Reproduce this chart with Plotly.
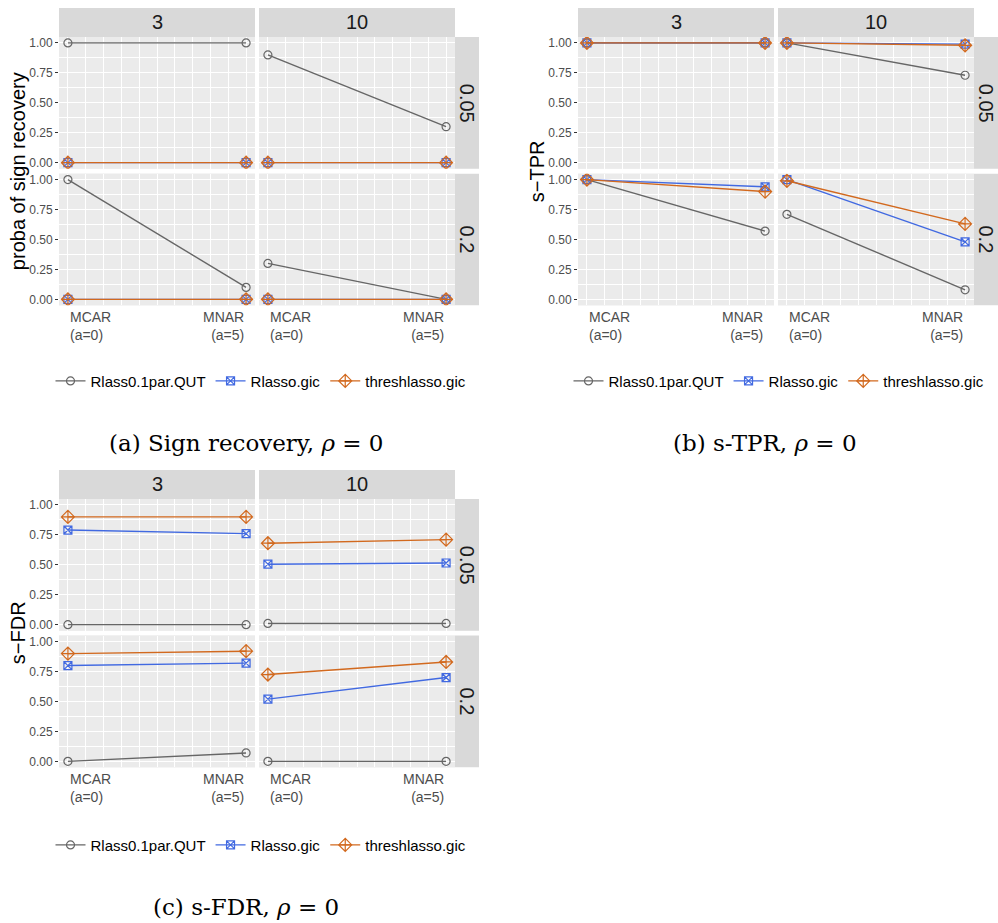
import plotly.graph_objects as go

W, H = 998, 923

# ---------------- data ----------------
a_values = [0, 5]
x_ticktext = ["MCAR<br>(a=0)", "MNAR<br>(a=5)"]
methods = ["Rlass0.1par.QUT", "Rlasso.gic", "threshlasso.gic"]
col_labels = ["3", "10"]
row_labels = ["0.05", "0.2"]
y_tickvals = [0, 0.25, 0.5, 0.75, 1.0]
y_ticktext = ["0.00", "0.25", "0.50", "0.75", "1.00"]

# panel order: (0.05,3), (0.05,10), (0.2,3), (0.2,10); each [MCAR, MNAR]
sign_qut = [[1.00, 1.00], [0.90, 0.30], [1.00, 0.10], [0.30, 0.00]]
sign_gic = [[0.00, 0.00], [0.00, 0.00], [0.00, 0.00], [0.00, 0.00]]
sign_thr = [[0.00, 0.00], [0.00, 0.00], [0.00, 0.00], [0.00, 0.00]]

tpr_qut = [[1.00, 1.00], [1.00, 0.73], [1.00, 0.57], [0.71, 0.08]]
tpr_gic = [[1.00, 1.00], [1.00, 0.99], [1.00, 0.94], [1.00, 0.48]]
tpr_thr = [[1.00, 1.00], [1.00, 0.98], [1.00, 0.90], [0.99, 0.63]]

fdr_qut = [[0.00, 0.00], [0.01, 0.01], [0.00, 0.07], [0.00, 0.00]]
fdr_gic = [[0.79, 0.76], [0.505, 0.515], [0.80, 0.82], [0.52, 0.70]]
fdr_thr = [[0.90, 0.90], [0.68, 0.71], [0.90, 0.92], [0.725, 0.83]]

# ---------------- styles ----------------
colors = ["#666666", "#4169E1", "#D2691E"]
symbols = ["circle-open", "square-x-open", "diamond-cross-open"]
msizes = [8, 8, 10]
PANEL_BG = "#EBEBEB"
STRIP_BG = "#D9D9D9"
SANS = "Liberation Sans, Arial, sans-serif"
SERIF = "DejaVu Serif, Liberation Serif, serif"

fig = go.Figure()
layout_axes = {}
annotations = []
shapes = []
axis_counter = [0]


def px_x(v):
    return v / W


def px_y(v):
    return 1 - v / H


def add_grid(series, left, top, ytitle, ytitle_x, legend_key, legend_xc, legend_y):
    col_w = 196
    gap = 5
    strip_h = 29
    row_h = 132
    strip_w = 24
    col_x0 = [left, left + col_w + gap - 1]
    row_y0 = [top + strip_h, top + strip_h + row_h + gap]
    # top strips
    for c in range(2):
        shapes.append(dict(type="rect", xref="paper", yref="paper",
                           x0=px_x(col_x0[c]), x1=px_x(col_x0[c] + col_w),
                           y0=px_y(top + strip_h), y1=px_y(top),
                           fillcolor=STRIP_BG, line=dict(width=0), layer="below"))
        annotations.append(dict(text=col_labels[c], xref="paper", yref="paper",
                                x=px_x(col_x0[c] + col_w / 2), y=px_y(top + strip_h / 2),
                                showarrow=False, font=dict(size=20, color="#1A1A1A", family=SANS),
                                xanchor="center", yanchor="middle"))
    # right strips
    sx0 = col_x0[1] + col_w
    for r in range(2):
        shapes.append(dict(type="rect", xref="paper", yref="paper",
                           x0=px_x(sx0), x1=px_x(sx0 + strip_w),
                           y0=px_y(row_y0[r] + row_h), y1=px_y(row_y0[r]),
                           fillcolor=STRIP_BG, line=dict(width=0), layer="below"))
        annotations.append(dict(text=row_labels[r], xref="paper", yref="paper",
                                x=px_x(sx0 + strip_w / 2), y=px_y(row_y0[r] + row_h / 2),
                                showarrow=False, textangle=90,
                                font=dict(size=20, color="#1A1A1A", family=SANS),
                                xanchor="center", yanchor="middle"))
    # y title
    annotations.append(dict(text=ytitle, xref="paper", yref="paper",
                            x=px_x(ytitle_x), y=px_y((row_y0[0] + row_y0[1] + row_h) / 2),
                            showarrow=False, textangle=-90,
                            font=dict(size=20, color="#000000", family=SANS),
                            xanchor="center", yanchor="middle"))
    p = 0
    for r in range(2):
        for c in range(2):
            axis_counter[0] += 1
            k = axis_counter[0]
            xn = "xaxis" if k == 1 else f"xaxis{k}"
            yn = "yaxis" if k == 1 else f"yaxis{k}"
            xr = "x" if k == 1 else f"x{k}"
            yr = "y" if k == 1 else f"y{k}"
            layout_axes[xn] = dict(
                domain=[px_x(col_x0[c]), px_x(col_x0[c] + col_w)],
                anchor=yr, range=[-0.25, 5.25],
                tickvals=[0, 1, 2, 3, 4, 5], showticklabels=False, ticks="",
                showgrid=True, gridcolor="white", gridwidth=1.1, zeroline=False,
                showline=False, fixedrange=True,
                minor=dict(tickvals=[0.5, 1.5, 2.5, 3.5, 4.5], showgrid=True,
                           gridcolor="white", gridwidth=0.5, ticks=""),
            )
            layout_axes[yn] = dict(
                domain=[px_y(row_y0[r] + row_h), px_y(row_y0[r])],
                anchor=xr, range=[-0.05, 1.05],
                tickvals=y_tickvals, ticktext=y_ticktext,
                showticklabels=(c == 0), ticks="outside" if c == 0 else "",
                ticklen=3, tickcolor="#333333", tickwidth=1,
                tickfont=dict(size=12, color="#4D4D4D", family=SANS),
                showgrid=True, gridcolor="white", gridwidth=1.1, zeroline=False,
                showline=False, fixedrange=True,
                minor=dict(tickvals=[0.125, 0.375, 0.625, 0.875], showgrid=True,
                           gridcolor="white", gridwidth=0.5, ticks=""),
            )
            shapes.append(dict(type="rect", xref="paper", yref="paper",
                               x0=px_x(col_x0[c]), x1=px_x(col_x0[c] + col_w),
                               y0=px_y(row_y0[r] + row_h), y1=px_y(row_y0[r]),
                               fillcolor=PANEL_BG, line=dict(width=0), layer="below"))
            for m in range(3):
                fig.add_trace(go.Scatter(
                    x=a_values, y=series[m][p], xaxis=xr, yaxis=yr,
                    mode="lines+markers", name=methods[m],
                    line=dict(color=colors[m], width=1.4),
                    marker=dict(symbol=symbols[m], size=msizes[m], color=colors[m],
                                line=dict(width=1.2, color=colors[m])),
                    showlegend=(p == 0), legend=legend_key, hoverinfo="skip",
                ))
            if r == 1:
                for i, v in enumerate(a_values):
                    annotations.append(dict(
                        text=x_ticktext[i], xref=xr, yref="paper", x=v,
                        y=px_y(row_y0[r] + row_h + 2), showarrow=False,
                        xanchor="left" if i == 0 else "right", yanchor="top",
                        align="left" if i == 0 else "right",
                        font=dict(size=14, color="#4D4D4D", family=SANS)))
            p += 1
    return dict(orientation="h", x=px_x(legend_xc), y=px_y(legend_y),
                xanchor="center", yanchor="middle", bgcolor="rgba(0,0,0,0)",
                font=dict(size=15, color="#000000", family=SANS),
                itemwidth=30, tracegroupgap=0)


legA = add_grid([sign_qut, sign_gic, sign_thr], 59, 7, "proba of sign recovery", 18,
                "legend", 261, 381)
legB = add_grid([tpr_qut, tpr_gic, tpr_thr], 578, 7, "s−TPR", 537,
                "legend2", 779, 381)
legC = add_grid([fdr_qut, fdr_gic, fdr_thr], 59, 470, "s−FDR", 18,
                "legend3", 261, 846)

captions = ["(a) Sign recovery, <i>ρ</i> = 0", "(b) s-TPR, <i>ρ</i> = 0", "(c) s-FDR, <i>ρ</i> = 0"]
cap_pos = [(246, 443), (765, 443), (246, 908)]
for t, (cx, cy) in zip(captions, cap_pos):
    annotations.append(dict(text=t, xref="paper", yref="paper", x=px_x(cx), y=px_y(cy),
                            showarrow=False, xanchor="center", yanchor="middle",
                            font=dict(size=23, color="#000000", family=SERIF)))

fig.update_layout(
    width=W, height=H, margin=dict(l=0, r=0, t=0, b=0),
    paper_bgcolor="white", plot_bgcolor=PANEL_BG,
    legend=legA, legend2=legB, legend3=legC,
    annotations=annotations, shapes=shapes,
    **layout_axes,
)
fig.write_html("out.html", config={"displayModeBar": False},
               post_script="document.body.style.margin='0';document.body.style.padding='0';")
